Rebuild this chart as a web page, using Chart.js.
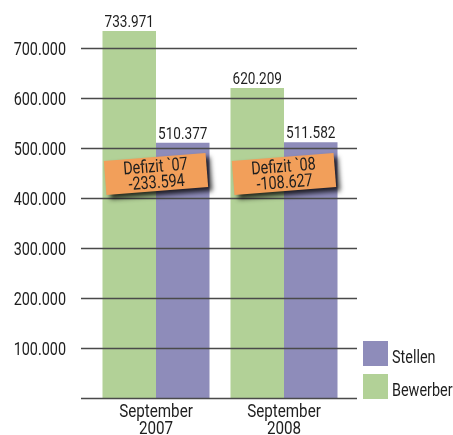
<!DOCTYPE html>
<html>
<head>
<meta charset="utf-8">
<script src="https://cdn.jsdelivr.net/npm/chart.js@4.4.1/dist/chart.umd.min.js"></script>
<style>
  html, body { margin: 0; padding: 0; background: #fff; }
  #wrap { position: relative; width: 453px; height: 435px; }
</style>
</head>
<body>
<div id="wrap"><canvas id="chart" width="453" height="435"></canvas></div>
<script>
"use strict";

// Bewerber vs. Stellen, jeweils September
const categories = [["September", "2007"], ["September", "2008"]];
const seriesNames = ["Bewerber", "Stellen"];
const bewerber = [733971, 620209];
const stellen = [510377, 511582];
const defizitTitles = ["Defizit `07", "Defizit `08"];
const defizitValues = ["-233.594", "-108.627"];
const yTicks = [100000, 200000, 300000, 400000, 500000, 600000, 700000];

const GREEN = "#b2d197";
const BLUE = "#8e8cba";
const ORANGE = "#f29f5a";
const INK = "#1e1e1e";
const FONT = "Roboto, 'DejaVu Sans', sans-serif";
const SQUEEZE = 0.8; // narrow the glyphs, condensed look

const fmt = (v) => v.toLocaleString("de-DE");

// text squeezed horizontally around its anchor point
function condText(ctx, text, x, y, size, align, baseline) {
  ctx.save();
  ctx.translate(x, y);
  ctx.scale(SQUEEZE, 1);
  ctx.font = size + "px " + FONT;
  ctx.textAlign = align || "center";
  ctx.textBaseline = baseline || "alphabetic";
  ctx.fillText(text, 0, 0);
  ctx.restore();
}

/* ── Grid lines over the bars, a bit wider than the plot area ── */
const gridOver = {
  id: "gridOver",
  afterDatasetsDraw(chart) {
    const { ctx, chartArea, scales } = chart;
    ctx.save();
    ctx.strokeStyle = "#4a4a4a";
    ctx.lineWidth = 1.6;
    [0].concat(yTicks).forEach((v) => {
      const y = Math.round(scales.y.getPixelForValue(v)) + 0.5;
      ctx.beginPath();
      ctx.moveTo(chartArea.left - 11, y);
      ctx.lineTo(chartArea.right + 9, y);
      ctx.stroke();
    });
    ctx.restore();
  },
};

/* ── Tick labels, values above bars, deficit notes, legend ── */
const annotations = {
  id: "annotations",
  afterDraw(chart) {
    const { ctx, chartArea, scales } = chart;
    ctx.save();
    ctx.fillStyle = INK;

    // y tick labels
    scales.y.ticks.forEach((t, i) => {
      const y = scales.y.getPixelForTick(i);
      condText(ctx, fmt(t.value), chartArea.left - 26, y + 2, 18, "right", "middle");
    });

    // x tick labels (two lines)
    chart.data.labels.forEach((lines, i) => {
      const x = scales.x.getPixelForTick(i);
      lines.forEach((s, k) => {
        condText(ctx, s, x, chartArea.bottom + 19 + k * 17, 19, "center");
      });
    });

    // value labels
    chart.data.datasets.forEach((ds, di) => {
      chart.getDatasetMeta(di).data.forEach((bar, i) => {
        condText(ctx, fmt(ds.data[i]), bar.x, bar.y - 4, 17, "center");
      });
    });

    // deficit notes
    categories.forEach((c, i) => {
      const cx = scales.x.getPixelForValue(i);
      const cy = scales.y.getPixelForValue(448000);
      ctx.save();
      ctx.translate(cx, cy);
      ctx.rotate(-0.078);
      ctx.shadowColor = "rgba(0,0,0,0.8)";
      ctx.shadowBlur = 5;
      ctx.shadowOffsetX = 4;
      ctx.shadowOffsetY = 4;
      ctx.fillStyle = ORANGE;
      ctx.fillRect(-51, -17, 102, 34);
      ctx.shadowColor = "transparent";
      ctx.fillStyle = INK;
      condText(ctx, defizitTitles[i], 0, -2, 18, "center");
      condText(ctx, defizitValues[i], 0, 14, 18, "center");
      ctx.restore();
    });

    // legend (Stellen on top)
    const lx = chartArea.right + 15;
    [1, 0].forEach((di, k) => {
      const ds = chart.data.datasets[di];
      const top = chartArea.bottom - 57 + k * 33;
      ctx.fillStyle = ds.backgroundColor;
      ctx.fillRect(lx, top, 25, 25);
      ctx.fillStyle = INK;
      condText(ctx, ds.label, lx + 29, top + 22, 18, "left");
    });
    ctx.restore();
  },
};

new Chart(document.getElementById("chart"), {
  type: "bar",
  data: {
    labels: categories,
    datasets: [
      { label: seriesNames[0], data: bewerber, backgroundColor: GREEN },
      { label: seriesNames[1], data: stellen, backgroundColor: BLUE },
    ],
  },
  options: {
    responsive: false,
    animation: false,
    layout: { padding: { top: 8, right: 105, left: 0, bottom: 0 } },
    categoryPercentage: 0.836,
    barPercentage: 1,
    plugins: { legend: { display: false }, tooltip: { enabled: false } },
    scales: {
      x: {
        offset: true,
        grid: { display: false },
        border: { display: false },
        ticks: { display: false },
        afterFit(scale) { scale.height = 37; },
      },
      y: {
        min: 0,
        max: 780000,
        grid: { display: false, drawTicks: false },
        border: { display: false },
        afterBuildTicks(scale) {
          scale.ticks = yTicks.map((v) => ({ value: v }));
        },
        ticks: { display: false },
        afterFit(scale) { scale.width = 92; },
      },
    },
  },
  plugins: [gridOver, annotations],
});
</script>
</body>
</html>
